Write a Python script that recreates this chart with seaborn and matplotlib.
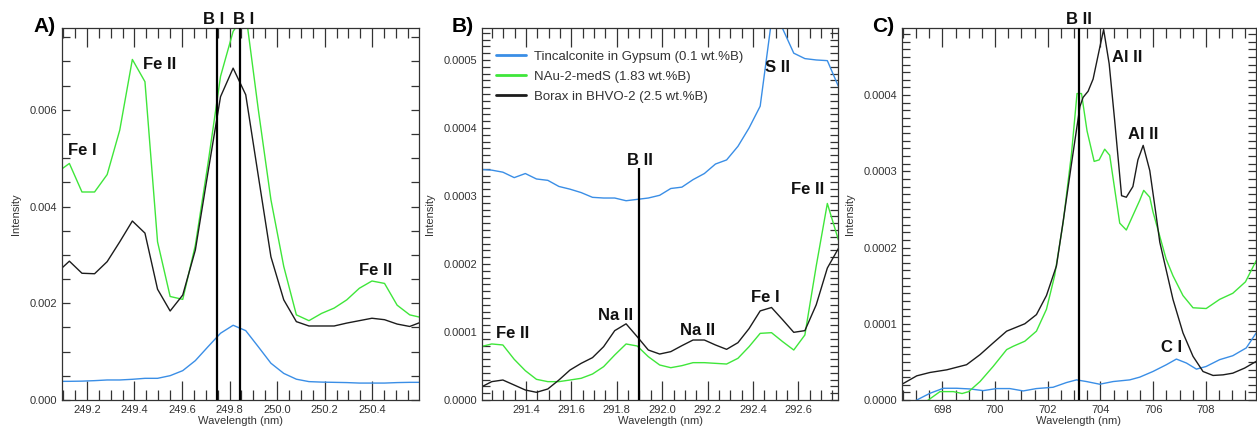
import matplotlib
matplotlib.use("Agg")
import matplotlib.pyplot as plt
import matplotlib.ticker as mt
import matplotlib.transforms as mtrans
import numpy as np
import pandas as pd
import seaborn as sns

# ---------------- data ----------------
# Panel A (B I region)
wl_A = [249.073, 249.126, 249.179, 249.232, 249.285, 249.338, 249.391, 249.444,
        249.497, 249.550, 249.603, 249.656, 249.709, 249.762, 249.815, 249.868,
        249.921, 249.974, 250.028, 250.081, 250.134, 250.187, 250.240, 250.293,
        250.346, 250.399, 250.452, 250.505, 250.558, 250.611]
tinc_A = [0.000385, 0.000386, 0.000390, 0.000400, 0.000414, 0.000414, 0.000428, 0.000448,
          0.000448, 0.000503, 0.000607, 0.000814, 0.00110, 0.00138, 0.001545, 0.001434,
          0.00110, 0.00076, 0.00055, 0.00043, 0.00038, 0.00037, 0.000365, 0.00036,
          0.00035, 0.00035, 0.00035, 0.00036, 0.000365, 0.000365]
nau_A = [0.00470, 0.00489, 0.00430, 0.00430, 0.00466, 0.00558, 0.00704, 0.00658,
         0.00327, 0.00214, 0.00208, 0.00320, 0.00488, 0.00669, 0.00762, 0.00800,
         0.00600, 0.00414, 0.00276, 0.00176, 0.00164, 0.00179, 0.00190, 0.00207,
         0.00231, 0.00246, 0.00241, 0.00196, 0.00176, 0.00170]
borax_A = [0.00263, 0.00287, 0.00262, 0.00261, 0.00286, 0.00327, 0.00370, 0.00345,
           0.00229, 0.00184, 0.00217, 0.00310, 0.00470, 0.00627, 0.00686, 0.00631,
           0.00463, 0.00296, 0.00207, 0.00162, 0.00153, 0.00153, 0.00153, 0.00159,
           0.00164, 0.00169, 0.00166, 0.00157, 0.00152, 0.00162]

# Panel B (B II 291.9 region)
wl_B = [291.200, 291.249, 291.298, 291.348, 291.397, 291.446, 291.496, 291.545,
        291.594, 291.643, 291.693, 291.742, 291.791, 291.841, 291.890, 291.939,
        291.989, 292.038, 292.087, 292.136, 292.186, 292.235, 292.284, 292.334,
        292.383, 292.432, 292.482, 292.531, 292.580, 292.629, 292.679, 292.728, 292.777]
tinc_B = [0.000339, 0.000338, 0.000335, 0.000327, 0.000333, 0.000325, 0.000323, 0.000314,
          0.000310, 0.000305, 0.000298, 0.000297, 0.000297, 0.000293, 0.000295, 0.000297,
          0.000301, 0.000311, 0.000313, 0.000324, 0.000333, 0.000347, 0.000353, 0.000373,
          0.000400, 0.000432, 0.000558, 0.000546, 0.000510, 0.000502, 0.000500, 0.000499, 0.000461]
nau_B = [0.0000784, 0.0000824, 0.0000809, 0.0000598, 0.0000431, 0.0000304, 0.0000270, 0.0000270,
         0.0000294, 0.0000319, 0.0000382, 0.0000490, 0.0000662, 0.0000824, 0.0000794, 0.0000637,
         0.0000515, 0.0000475, 0.0000505, 0.0000549, 0.0000549, 0.0000539, 0.0000529, 0.0000613,
         0.0000784, 0.0000980, 0.0000990, 0.0000858, 0.0000735, 0.0000956, 0.000197, 0.000289, 0.000235]
borax_B = [0.0000186, 0.0000270, 0.0000294, 0.0000220, 0.0000147, 0.0000113, 0.0000162, 0.0000294,
           0.0000441, 0.0000539, 0.0000623, 0.0000784, 0.000102, 0.000112, 0.0000931, 0.0000735,
           0.0000676, 0.0000711, 0.0000799, 0.0000882, 0.0000882, 0.0000809, 0.0000745, 0.0000843,
           0.000105, 0.000131, 0.000136, 0.000118, 0.0000995, 0.000102, 0.000140, 0.000194, 0.000223]

# Panel C (B II 703 region)
wl_C_tinc = [696.60, 697.03, 697.53, 698.04, 698.54, 699.05, 699.55, 700.06, 700.56, 701.07,
             701.57, 702.20, 702.71, 703.09, 703.47, 703.97, 704.48, 705.11, 705.49, 705.99,
             706.50, 706.88, 707.26, 707.64, 708.01, 708.52, 709.02, 709.53, 709.91]
tinc_C = [-0.0000100, 0.0000000, 0.0000088, 0.0000154, 0.0000154, 0.0000145, 0.0000123, 0.0000150,
          0.0000150, 0.0000119, 0.0000150, 0.0000167, 0.0000229, 0.0000264, 0.0000242, 0.0000207,
          0.0000242, 0.0000264, 0.0000300, 0.0000374, 0.0000463, 0.0000537, 0.0000485, 0.0000405,
          0.0000440, 0.0000529, 0.0000581, 0.0000683, 0.0000881]
wl_C_nau = [697.00, 697.47, 697.91, 698.42, 698.75, 699.00, 699.43, 699.93, 700.44, 700.69,
            701.13, 701.57, 701.95, 702.26, 702.58, 702.90, 703.11, 703.28, 703.49, 703.76,
            703.95, 704.16, 704.35, 704.73, 704.98, 705.49, 705.64, 705.87, 705.99, 706.49,
            706.75, 707.13, 707.51, 708.01, 708.52, 709.02, 709.50, 709.91]
nau_C = [-0.0000100, 0.0000000, 0.0000110, 0.0000110, 0.0000085, 0.0000110, 0.0000242, 0.0000441,
         0.0000661, 0.0000705, 0.0000771, 0.0000903, 0.000119, 0.000163, 0.000232, 0.000323,
         0.000402, 0.000402, 0.000353, 0.000313, 0.000315, 0.000329, 0.000321, 0.000232,
         0.000223, 0.000262, 0.000275, 0.000266, 0.000247, 0.000185, 0.000163, 0.000137,
         0.000121, 0.000120, 0.000132, 0.000140, 0.000155, 0.000183]
wl_C_borax = [696.20, 696.47, 697.03, 697.53, 698.17, 698.92, 699.43, 699.93, 700.44, 701.13,
              701.57, 701.95, 702.33, 702.60, 702.90, 703.22, 703.34, 703.53, 703.72, 703.97,
              704.12, 704.33, 704.54, 704.80, 704.98, 705.23, 705.42, 705.62, 705.87, 706.12,
              706.25, 706.75, 707.13, 707.51, 707.89, 708.27, 708.65, 709.02, 709.47, 709.91]
borax_C = [0.0000150, 0.0000207, 0.0000317, 0.0000361, 0.0000396, 0.0000463, 0.0000595, 0.0000749,
           0.0000903, 0.000100, 0.000112, 0.000137, 0.000176, 0.000238, 0.000310, 0.000385,
           0.000397, 0.000405, 0.000421, 0.000462, 0.000486, 0.000441, 0.000366, 0.000268,
           0.000266, 0.000280, 0.000315, 0.000334, 0.000301, 0.000240, 0.000207, 0.000132,
           0.0000880, 0.0000573, 0.0000374, 0.0000322, 0.0000330, 0.0000352, 0.0000419, 0.0000507]

series_names = ["Tincalconite in Gypsum (0.1 wt.%B)",
                "NAu-2-medS (1.83 wt.%B)",
                "Borax in BHVO-2 (2.5 wt.%B)"]
series_colors = ["#3a8ee6", "#3fe63a", "#1c1c1c"]

# boron emission lines
boron_A = [249.748, 249.842]
boron_A_labels = ["B I", "B I"]
boron_B = [291.898]
boron_B_top = 0.000341
boron_C = [703.17]

# element annotations: (text, wavelength, intensity)
ann_A = [("Fe I", 249.182, 0.00507), ("Fe II", 249.505, 0.00685), ("Fe II", 250.414, 0.002585)]
ann_B = [("S II", 292.508, 0.000483), ("B II", 291.901, 0.0003456), ("Fe II", 292.642, 0.0003025),
         ("Fe II", 291.341, 0.0000916), ("Na II", 291.794, 0.0001176),
         ("Na II", 292.158, 0.0000956), ("Fe I", 292.453, 0.0001446)]
ann_C = [("Al II", 705.02, 0.000444), ("Al II", 705.63, 0.000343), ("C I", 706.69, 0.0000632)]

# ---------------- style ----------------
sns.set_style("ticks")
plt.rcParams["font.family"] = ["Liberation Sans", "DejaVu Sans"]
plt.rcParams["axes.edgecolor"] = "#333333"
plt.rcParams["xtick.color"] = "#333333"
plt.rcParams["ytick.color"] = "#333333"

fig = plt.figure(figsize=(12.57, 4.26), dpi=100)
W, H = 1257.0, 426.0
bottom = 26 / H
height = 372 / H
axA = fig.add_axes([62 / W, bottom, 357 / W, height])
axB = fig.add_axes([482 / W, bottom, 356 / W, height])
axC = fig.add_axes([902 / W, bottom, 354 / W, height])


def draw(ax, sets):
    for (x, y), name, col in zip(sets, series_names, series_colors):
        df = pd.DataFrame({"wl": x, "I": y})
        sns.lineplot(data=df, x="wl", y="I", ax=ax, color=col, lw=1.0, label=name,
                     sort=False, estimator=None)


draw(axA, [(wl_A, tinc_A), (wl_A, nau_A), (wl_A, borax_A)])
draw(axB, [(wl_B, tinc_B), (wl_B, nau_B), (wl_B, borax_B)])
draw(axC, [(wl_C_tinc, tinc_C), (wl_C_nau, nau_C), (wl_C_borax, borax_C)])

axA.set_xlim(249.095, 250.597)
axA.set_ylim(0, 0.00769)
axB.set_xlim(291.206, 292.775)
axB.set_ylim(0, 0.000547)
axC.set_xlim(696.47, 709.9)
axC.set_ylim(0, 0.000488)

axA.xaxis.set_major_locator(mt.MultipleLocator(0.2))
axA.xaxis.set_minor_locator(mt.MultipleLocator(0.05))
axA.xaxis.set_major_formatter(mt.FormatStrFormatter("%.1f"))
axA.yaxis.set_major_locator(mt.MultipleLocator(0.002))
axA.yaxis.set_minor_locator(mt.MultipleLocator(0.0005))
axA.yaxis.set_major_formatter(mt.FormatStrFormatter("%.3f"))

axB.xaxis.set_major_locator(mt.MultipleLocator(0.2))
axB.xaxis.set_minor_locator(mt.MultipleLocator(0.05))
axB.xaxis.set_major_formatter(mt.FormatStrFormatter("%.1f"))
axB.yaxis.set_major_locator(mt.MultipleLocator(0.0001))
axB.yaxis.set_minor_locator(mt.MultipleLocator(0.00001))
axB.yaxis.set_major_formatter(mt.FormatStrFormatter("%.4f"))

axC.xaxis.set_major_locator(mt.MultipleLocator(2))
axC.xaxis.set_minor_locator(mt.MultipleLocator(0.5))
axC.xaxis.set_major_formatter(mt.FormatStrFormatter("%d"))
axC.yaxis.set_major_locator(mt.MultipleLocator(0.0001))
axC.yaxis.set_minor_locator(mt.MultipleLocator(0.00001))
axC.yaxis.set_major_formatter(mt.FormatStrFormatter("%.4f"))

for ax in (axA, axB, axC):
    ax.tick_params(which="both", direction="in", top=True, right=True,
                   labelsize=8, width=0.9, pad=3.5, labelcolor="#333333")
    ax.tick_params(axis="x", which="major", length=14)
    ax.tick_params(axis="x", which="minor", length=7)
    ax.tick_params(axis="y", which="both", length=5.5)
    for s in ax.spines.values():
        s.set_linewidth(0.9)
    ax.set_xlabel("Wavelength (nm)", fontsize=8, color="#333333", labelpad=1)
    ax.set_ylabel("Intensity", fontsize=8, color="#333333", labelpad=6)
    if ax is not axB:
        ax.get_legend().remove()

# boron lines
for xb in boron_A:
    axA.axvline(xb, color="black", lw=1.6, zorder=5)
axB.vlines(boron_B, 0, boron_B_top, color="black", lw=1.6, zorder=5)
for xb in boron_C:
    axC.axvline(xb, color="black", lw=1.6, zorder=5)

lab_kw = dict(fontsize=12, fontweight="bold", color="#111111")
tA = mtrans.blended_transform_factory(axA.transData, axA.transAxes)
axA.text(249.731, 1.012, "B I", transform=tA, ha="center", va="baseline", **lab_kw)
axA.text(249.859, 1.012, "B I", transform=tA, ha="center", va="baseline", **lab_kw)
tC = mtrans.blended_transform_factory(axC.transData, axC.transAxes)
axC.text(703.2, 1.012, "B II", transform=tC, ha="center", va="baseline", **lab_kw)

for ax, anns in ((axA, ann_A), (axB, ann_B), (axC, ann_C)):
    for t, x, y in anns:
        ax.text(x, y, t, ha="center", va="baseline", zorder=6, **lab_kw)

# legend in panel B
leg = axB.legend(loc="upper left", bbox_to_anchor=(0.039, 0.940), frameon=False,
                 fontsize=9.5, handlelength=2.3, handletextpad=0.6, labelspacing=0.6,
                 borderpad=0, borderaxespad=0)
for h in leg.get_lines():
    h.set_linewidth(2.0)
for t in leg.get_texts():
    t.set_color("#333333")

# panel letters
for xpx, letter in ((33, "A)"), (452, "B)"), (872, "C)")):
    fig.text(xpx / W, 1 - 31.7 / H, letter, fontsize=15, fontweight="heavy",
             ha="left", va="baseline", color="black")

fig.savefig("out.png", dpi=100)
